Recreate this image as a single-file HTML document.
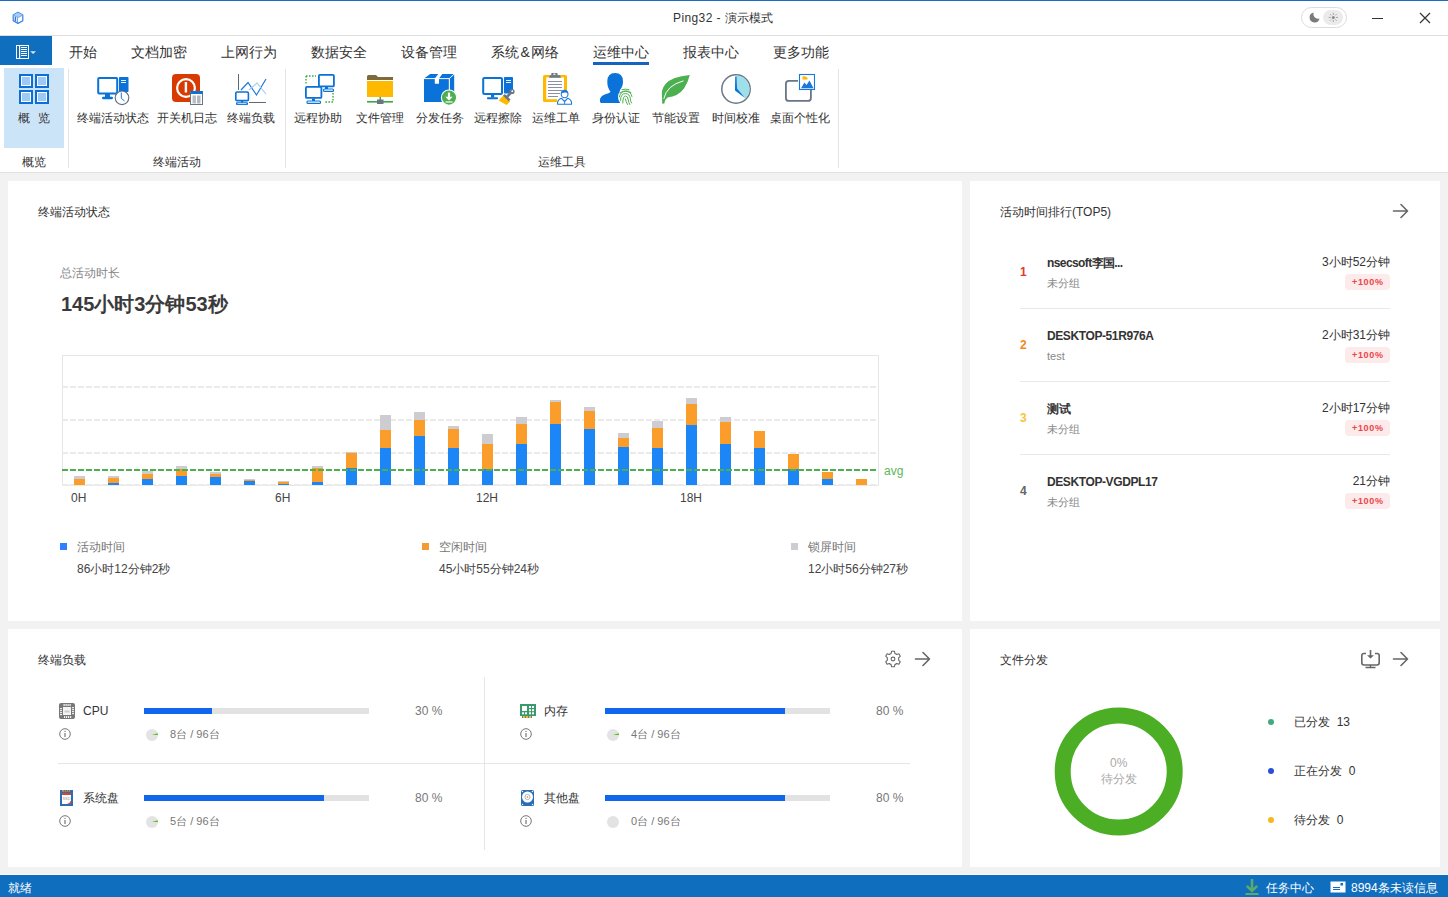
<!DOCTYPE html>
<html><head><meta charset="utf-8">
<style>
*{margin:0;padding:0;box-sizing:border-box}
html,body{width:1448px;height:897px;overflow:hidden;background:#f2f2f2;font-family:"Liberation Sans",sans-serif;color:#333}
.a{position:absolute;white-space:nowrap}
.t12{font-size:12px;line-height:12px}
.t14{font-size:14px;line-height:14px}
.t11{font-size:11px;line-height:11px}
svg{position:absolute;overflow:visible}
.panel{position:absolute;background:#fff}
</style></head><body>
<!-- title bar -->
<div class="a" style="left:0;top:0;width:1448px;height:35px;background:#fff;border-top:1px solid #1a6dc0"></div>
<div class="a" style="left:0;top:35px;width:1448px;height:1px;background:#dedede"></div>
<svg style="left:0;top:0" width="30" height="30" viewBox="0 0 30 30"><path d="M18 12.4L22.8 15V20.8L18 23.4L13.2 20.8V15Z" fill="#fff" stroke="#2f80e8" stroke-width="1.2" stroke-linejoin="round"/><path d="M13.4 15.1L18 12.6L22.6 15.1L18 17.6Z" fill="#a9cdf7"/><path d="M13.5 15.2L18 17.6L22.5 15.2" fill="none" stroke="#5a9ef0" stroke-width="0.9"/><path d="M15.3 16.8V21.2" stroke="#2f5fd0" stroke-width="1.2"/><path d="M17.3 17.8V22.6" stroke="#4a8ff0" stroke-width="1"/></svg>
<div class="a t12" style="left:673px;top:12px;color:#333"><span style="letter-spacing:0.4px">Ping32 - </span>演示模式</div>
<div class="a" style="left:1301px;top:7px;width:46px;height:21px;border:1px solid #dcdcdc;border-radius:11px;background:#fff"></div>
<div class="a" style="left:1323px;top:10px;width:20px;height:15px;border-radius:8px;background:#ebebeb"></div>
<svg style="left:1309px;top:12px" width="11" height="11" viewBox="0 0 11 11"><path d="M4.6 0.5A5 5 0 1 0 10.5 6.4A4.6 4.6 0 0 1 4.6 0.5Z" fill="#7a7a7a"/></svg>
<svg style="left:1327px;top:11px" width="13" height="13" viewBox="0 0 13 13"><circle cx="6.3" cy="6.4" r="1.5" fill="#8a8a8a"/><g stroke="#9a9a9a" stroke-width="0.9"><path d="M6.3 1.8V3.8M6.3 9V11M1.7 6.4H3.7M8.9 6.4H10.9M3 3.1L4.3 4.4M8.3 8.4L9.6 9.7M3 9.7L4.3 8.4M8.3 4.4L9.6 3.1"/></g></svg>
<div class="a" style="left:1372px;top:18px;width:11px;height:1px;background:#333"></div>
<svg style="left:1419px;top:12px" width="12" height="12" viewBox="0 0 12 12"><path d="M1 1L11 11M11 1L1 11" stroke="#333" stroke-width="1.2"/></svg>
<!-- ribbon -->
<div class="a" style="left:0;top:36px;width:1448px;height:136px;background:#fff"></div>
<div class="a" style="left:0;top:172px;width:1448px;height:1px;background:#e1e1e1"></div>
<div class="a" style="left:0;top:36px;width:52px;height:29px;background:#106ebe"></div>
<div class="a" style="left:4px;top:68px;width:60px;height:80px;background:#cce4f7"></div>
<div class="a" style="left:68px;top:69px;width:1px;height:99px;background:#e3e3e3"></div>
<div class="a" style="left:285px;top:69px;width:1px;height:99px;background:#e3e3e3"></div>
<div class="a" style="left:838px;top:69px;width:1px;height:99px;background:#e3e3e3"></div>
<div class="a" style="left:593px;top:62px;width:56px;height:3px;background:#1565c0"></div>
<div class="a t14" style="top:45px;left:69px">开始</div>
<div class="a t14" style="top:45px;left:131px">文档加密</div>
<div class="a t14" style="top:45px;left:221px">上网行为</div>
<div class="a t14" style="top:45px;left:311px">数据安全</div>
<div class="a t14" style="top:45px;left:401px">设备管理</div>
<div class="a t14" style="top:45px;left:491px">系统<span style="padding:0 1.5px">&amp;</span>网络</div>
<div class="a t14" style="top:45px;left:593px">运维中心</div>
<div class="a t14" style="top:45px;left:683px">报表中心</div>
<div class="a t14" style="top:45px;left:773px">更多功能</div>
<div class="a t12" style="top:112px;left:18px;color:#333">概<span style="display:inline-block;width:8px"></span>览</div>
<div class="a t12" style="top:112px;left:77px;color:#333">终端活动状态</div>
<div class="a t12" style="top:112px;left:157px;color:#333">开关机日志</div>
<div class="a t12" style="top:112px;left:227px;color:#333">终端负载</div>
<div class="a t12" style="top:112px;left:294px;color:#333">远程协助</div>
<div class="a t12" style="top:112px;left:356px;color:#333">文件管理</div>
<div class="a t12" style="top:112px;left:416px;color:#333">分发任务</div>
<div class="a t12" style="top:112px;left:474px;color:#333">远程擦除</div>
<div class="a t12" style="top:112px;left:532px;color:#333">运维工单</div>
<div class="a t12" style="top:112px;left:592px;color:#333">身份认证</div>
<div class="a t12" style="top:112px;left:652px;color:#333">节能设置</div>
<div class="a t12" style="top:112px;left:712px;color:#333">时间校准</div>
<div class="a t12" style="top:112px;left:770px;color:#333">桌面个性化</div>
<div class="a t12" style="top:156px;left:22px;color:#333">概览</div>
<div class="a t12" style="top:156px;left:153px;color:#333">终端活动</div>
<div class="a t12" style="top:156px;left:538px;color:#333">运维工具</div>
<svg style="left:0;top:0" width="1448" height="173" viewBox="0 0 1448 173">
<!-- menu icon -->
<rect x="16.5" y="45.5" width="12" height="13" fill="none" stroke="#fff" stroke-width="1"/>
<rect x="19" y="46" width="1.2" height="12" fill="#fff"/>
<path d="M21 47.5H27M21 49.5H27M21 51.5H27M21 53.5H27M21 55.5H27" stroke="#fff" stroke-width="1"/>
<path d="M30.2 51.3H36L33.1 54Z" fill="#d8e8f7"/>
<!-- overview -->
<g>
<rect x="19" y="74" width="14" height="14" fill="#0a6fd6"/><rect x="21" y="76" width="10" height="10" fill="#fff"/><rect x="22" y="77" width="8" height="8" fill="#9ccaf7"/>
<rect x="35" y="74" width="14" height="14" fill="#0a6fd6"/><rect x="37" y="76" width="10" height="10" fill="#fff"/><rect x="38" y="77" width="8" height="8" fill="#9ccaf7"/>
<rect x="19" y="90" width="14" height="14" fill="#0a6fd6"/><rect x="21" y="92" width="10" height="10" fill="#fff"/><rect x="22" y="93" width="8" height="8" fill="#9ccaf7"/>
<rect x="35" y="90" width="14" height="14" fill="#0a6fd6"/><rect x="37" y="92" width="10" height="10" fill="#fff"/><rect x="38" y="93" width="8" height="8" fill="#9ccaf7"/>
</g>
<!-- terminal activity status -->
<g>
<rect x="98.2" y="78" width="19" height="15.5" rx="1" fill="none" stroke="#0a72d8" stroke-width="2"/>
<rect x="105" y="94" width="5" height="3.5" fill="#0a72d8"/>
<rect x="102" y="96.8" width="11" height="2.4" rx="1.1" fill="#0a72d8"/>
<rect x="119" y="77" width="9.5" height="15" rx="0.8" fill="#0a72d8"/>
<path d="M121 80.5H126M121 82.5H126" stroke="#fff" stroke-width="0.9"/>
<circle cx="122" cy="97.8" r="6.8" fill="#fff" stroke="#5f6e80" stroke-width="1.1"/>
<path d="M121.3 92.5V98.3L124.5 101" fill="none" stroke="#1a78dd" stroke-width="1"/>
</g>
<!-- power log -->
<g>
<rect x="172" y="74" width="28" height="28" rx="4" fill="#d83b01"/>
<circle cx="186" cy="88" r="8.9" fill="none" stroke="#fff" stroke-width="2.2"/>
<rect x="184.7" y="82" width="2.4" height="10.5" fill="#fff"/>
<rect x="190.5" y="91.5" width="12" height="13" fill="#fff" stroke="#6a7686" stroke-width="1"/>
<rect x="190.5" y="91" width="12" height="3" fill="#0a72d8"/>
<rect x="192.5" y="95.5" width="3.5" height="8" fill="#b9bdc4"/>
<rect x="197" y="95.5" width="3.5" height="8" fill="#b4b9c0"/>
</g>
<!-- terminal load -->
<g>
<path d="M238.5 74V90" stroke="#5a6878" stroke-width="1"/>
<path d="M249 102.5H266" stroke="#5a6878" stroke-width="1"/>
<path d="M241 90L248 82.5L256.5 95L266 79" fill="none" stroke="#1a7ad9" stroke-width="1.2"/>
<path d="M249 90L257 83L266 94" fill="none" stroke="#9ccaf0" stroke-width="1.1"/>
<rect x="235.8" y="92" width="12.6" height="8.6" rx="1.2" fill="#fff" stroke="#0a72d8" stroke-width="1.6"/>
<rect x="241" y="100.5" width="2.2" height="2" fill="#0a72d8"/>
<rect x="236" y="102.2" width="12" height="2.8" rx="1" fill="#0a72d8"/>
<path d="M237.5 103.6H246.5" stroke="#fff" stroke-width="0.8"/>
</g>
<!-- remote assist -->
<g>
<path d="M306 76H316M306 76V85M333 93V102H324" fill="none" stroke="#3bab40" stroke-width="1.4" stroke-dasharray="1.6 1.4"/>
<rect x="318.9" y="74.9" width="15" height="11.5" rx="1" fill="#fff" stroke="#0a72d8" stroke-width="1.8"/>
<rect x="325" y="87" width="3" height="2" fill="#0a72d8"/>
<rect x="323.5" y="89" width="10" height="2.4" rx="1" fill="#fff" stroke="#0a72d8" stroke-width="1.1"/>
<rect x="305.9" y="86.9" width="15.5" height="11" rx="1" fill="#fff" stroke="#0a72d8" stroke-width="1.8"/>
<rect x="312" y="98.5" width="3" height="2.5" fill="#0a72d8"/>
<rect x="307" y="101" width="13.5" height="2.4" rx="1" fill="#fff" stroke="#0a72d8" stroke-width="1.1"/>
</g>
<!-- file manage -->
<g>
<path d="M367 76.5Q367 75 368.5 75H376L378 77H393V80H367Z" fill="#7d6b3d"/>
<rect x="367" y="81" width="26" height="16" fill="#ffb900"/>
<rect x="379.5" y="97" width="1.5" height="3" fill="#3bab40"/>
<rect x="367" y="101" width="26" height="1.6" fill="#3bab40"/>
<rect x="377" y="99.5" width="6.5" height="4.5" fill="#6a7686"/>
</g>
<!-- distribute task -->
<g>
<path d="M424 78.6L430.2 74H454L449.2 78.6Z" fill="#0a72d8"/>
<path d="M449.6 78.6L454.2 74.3V96L449.6 100Z" fill="#0a72d8"/>
<rect x="424" y="78.6" width="25" height="23.4" fill="#0a72d8"/>
<path d="M424 78.6H449.3L454 74.2M449.3 78.6V96" fill="none" stroke="#fff" stroke-width="0.9"/>
<path d="M438.3 74H442.3L439 78.6V83.8H434.8V78.6Z" fill="#fff"/>
<circle cx="449" cy="97.6" r="7.6" fill="#4caf50" stroke="#fff" stroke-width="1.1"/>
<path d="M449 92.6V98.5" stroke="#fff" stroke-width="2.2"/>
<path d="M445.3 96.8L449 100.6L452.7 96.8Z" fill="#fff"/>
<path d="M445.5 102H452.5" stroke="#fff" stroke-width="1.2"/>
</g>
<!-- remote wipe -->
<g>
<rect x="483.2" y="77.9" width="18.8" height="16" rx="1.2" fill="none" stroke="#0a72d8" stroke-width="2"/>
<rect x="491" y="94.5" width="3.2" height="3" fill="#0a72d8"/>
<rect x="487" y="97.2" width="11" height="2" rx="0.8" fill="#0a72d8"/>
<rect x="504" y="77" width="9" height="16.5" rx="0.8" fill="#0a72d8"/>
<path d="M506 80.5H511M506 82.5H511" stroke="#fff" stroke-width="0.9"/>
<path d="M503.5 95.3L510.2 101.5L506.5 105L498.7 100.5Z" fill="#ffb900"/>
<path d="M503 95.8L504.8 94L510.5 99.5L508.8 101.3Z" fill="#6a7686"/>
<path d="M506.8 97.2L512 91.5" stroke="#6a7686" stroke-width="2.6" stroke-linecap="round"/>
<circle cx="512" cy="91.5" r="2.6" fill="#6a7686"/>
<circle cx="512.3" cy="91.2" r="0.9" fill="#fff"/>
</g>
<!-- ops ticket -->
<g>
<rect x="543" y="75" width="24" height="27" rx="1.5" fill="#ffb900"/>
<rect x="546.2" y="77.4" width="17.8" height="21.8" fill="#fff"/>
<path d="M549 77.8L550 75.2H560L561 77.8Z" fill="#6a7686"/>
<rect x="551.2" y="73" width="6.4" height="2.6" rx="1" fill="#6a7686"/>
<rect x="553.4" y="73.6" width="2" height="1.3" fill="#fff"/>
<path d="M548 81.5H562M548 84.5H562M548 87.5H562M548 90.5H562M548 93.5H560M548 96.5H558" stroke="#7a8594" stroke-width="0.9"/>
<path d="M557 105V99.5Q558 96.5 562 96L564.6 96.5L567 96Q571.5 96.5 572.3 99.5V105Z" fill="#fff"/>
<path d="M557.6 104.3Q557 99.8 561.5 98.3L564.6 101.5L567.6 98.3Q572 99.8 571.6 104.3Z" fill="#fff" stroke="#1a78dd" stroke-width="1.1" stroke-linejoin="round"/>
<path d="M564.6 101.5V104.3" stroke="#1a78dd" stroke-width="0.9"/>
<ellipse cx="564.6" cy="94" rx="3.4" ry="3.8" fill="#fff" stroke="#1a78dd" stroke-width="1.1"/>
<path d="M561.3 93.5Q561 89.9 564.6 89.9Q568.2 89.9 567.9 93.5Q566 91.5 561.3 93.5Z" fill="#1a78dd"/>
</g>
<!-- identity auth -->
<g>
<path d="M615 73Q623 73 623 81.5Q623 86.5 620 90Q619 92 621 93.5L623 95V103H601Q599.5 102 600 99Q601 95.5 606 94Q610 93 610.5 91.5Q607.3 88 607.3 81.5Q607.3 73 615 73Z" fill="#0a72d8"/>
<ellipse cx="625.5" cy="97" rx="7.5" ry="8.5" fill="#fff"/>
<g fill="none" stroke="#4caf50" stroke-width="1" stroke-linecap="round">
<path d="M622 89.6Q625.5 88.6 629 89.6"/>
<path d="M619.8 93Q625.5 88.8 631 92.5"/>
<path d="M619.3 97Q620.5 91.5 625.5 91.3Q631 91.5 632 96.5"/>
<path d="M620.5 100.5Q620.5 93.6 625.5 93.6Q629.8 93.8 630.3 98.5Q630.5 101.5 631.5 103"/>
<path d="M622.8 103Q622.8 96 625.5 96Q628 96 628.3 100Q628.5 102.5 629.8 104.5"/>
<path d="M625.3 98.8Q626 101.5 627.5 104.5"/>
</g>
</g>
<!-- energy -->
<g>
<path d="M689.8 75Q672 76.5 665.5 84Q661 89.5 662 96L662.2 103.8L664.3 103.5Q664.8 99.5 667.5 97.6Q678 96.5 684 88.5Q688 82.5 689.8 75Z" fill="#4caf50"/>
<path d="M663.8 98.8Q666.5 85.5 683.5 80.8" fill="none" stroke="#fff" stroke-width="1"/>
</g>
<!-- time sync -->
<g>
<circle cx="736" cy="89" r="14.2" fill="#fff" stroke="#697789" stroke-width="1.5"/>
<path d="M736 75.5A13.5 13.5 0 0 1 745.5 98.5L736 89Z" fill="#9ee0ea"/>
<path d="M735.2 76.5L736.5 76.5L737 88.5L745 98L735 90.5Z" fill="#0a72d8"/>
</g>
<!-- desktop personalize -->
<g>
<rect x="785.9" y="80.9" width="25" height="20" rx="3" fill="none" stroke="#6a7686" stroke-width="1.8"/>
<rect x="798" y="73.5" width="17.5" height="16.5" fill="#fff"/>
<rect x="799.5" y="74.5" width="15" height="15" fill="#fff" stroke="#1a78dd" stroke-width="1.1"/>
<circle cx="804" cy="77.6" r="1.5" fill="#ffb900"/><circle cx="806" cy="78" r="1.3" fill="#ffb900"/><rect x="802.5" y="78" width="5" height="1.5" fill="#ffb900"/>
<path d="M801 88.2L804.5 82.5L806.5 85L809.5 80.5L813.5 88.2Z" fill="#1a78dd"/>
</g>
</svg>
<!-- panels -->
<div class="panel" style="left:8px;top:181px;width:954px;height:440px"></div>
<div class="panel" style="left:970px;top:181px;width:470px;height:440px"></div>
<div class="panel" style="left:8px;top:629px;width:954px;height:238px"></div>
<div class="panel" style="left:970px;top:629px;width:470px;height:238px"></div>
<div class="a t12" style="left:38px;top:206px;color:#333">终端活动状态</div>
<div class="a t12" style="left:60px;top:267px;color:#888">总活动时长</div>
<div class="a" style="left:61px;top:294px;font-size:20px;line-height:20px;font-weight:bold;color:#3a3a3a">145小时3分钟53秒</div>
<svg style="left:0;top:0" width="1448" height="600" viewBox="0 0 1448 600">
<rect x="62.5" y="355.5" width="816" height="130" fill="none" stroke="#e6e6e6" stroke-width="1"/>
<path d="M62 387H878" stroke="#eaeaea" stroke-width="2" stroke-dasharray="6 2"/>
<path d="M62 420H878" stroke="#eaeaea" stroke-width="2" stroke-dasharray="6 2"/>
<path d="M62 453H878" stroke="#eaeaea" stroke-width="2" stroke-dasharray="6 2"/>
<path d="M62 485H878" stroke="#eaeaea" stroke-width="2" stroke-dasharray="6 2"/>
<rect x="74" y="476" width="11" height="3" fill="#cdccd1"/>
<rect x="74" y="479" width="11" height="6" fill="#fa9d2b"/>
<rect x="108" y="476" width="11" height="2" fill="#cdccd1"/>
<rect x="108" y="478" width="11" height="5" fill="#fa9d2b"/>
<rect x="108" y="483" width="11" height="2" fill="#1c86f6"/>
<rect x="142" y="471" width="11" height="3" fill="#cdccd1"/>
<rect x="142" y="474" width="11" height="5" fill="#fa9d2b"/>
<rect x="142" y="479" width="11" height="6" fill="#1c86f6"/>
<rect x="176" y="466" width="11" height="3" fill="#cdccd1"/>
<rect x="176" y="469" width="11" height="7" fill="#fa9d2b"/>
<rect x="176" y="476" width="11" height="9" fill="#1c86f6"/>
<rect x="210" y="472" width="11" height="2" fill="#cdccd1"/>
<rect x="210" y="474" width="11" height="3" fill="#fa9d2b"/>
<rect x="210" y="477" width="11" height="8" fill="#1c86f6"/>
<rect x="244" y="479" width="11" height="1" fill="#cdccd1"/>
<rect x="244" y="480" width="11" height="1" fill="#fa9d2b"/>
<rect x="244" y="481" width="11" height="4" fill="#1c86f6"/>
<rect x="278" y="481" width="11" height="1" fill="#cdccd1"/>
<rect x="278" y="482" width="11" height="2" fill="#fa9d2b"/>
<rect x="278" y="484" width="11" height="1" fill="#1c86f6"/>
<rect x="312" y="466" width="11" height="2" fill="#cdccd1"/>
<rect x="312" y="468" width="11" height="14" fill="#fa9d2b"/>
<rect x="312" y="482" width="11" height="3" fill="#1c86f6"/>
<rect x="346" y="452" width="11" height="1" fill="#cdccd1"/>
<rect x="346" y="453" width="11" height="15" fill="#fa9d2b"/>
<rect x="346" y="468" width="11" height="17" fill="#1c86f6"/>
<rect x="380" y="415" width="11" height="15" fill="#cdccd1"/>
<rect x="380" y="430" width="11" height="18" fill="#fa9d2b"/>
<rect x="380" y="448" width="11" height="37" fill="#1c86f6"/>
<rect x="414" y="412" width="11" height="8" fill="#cdccd1"/>
<rect x="414" y="420" width="11" height="16" fill="#fa9d2b"/>
<rect x="414" y="436" width="11" height="49" fill="#1c86f6"/>
<rect x="448" y="426" width="11" height="3" fill="#cdccd1"/>
<rect x="448" y="429" width="11" height="19" fill="#fa9d2b"/>
<rect x="448" y="448" width="11" height="37" fill="#1c86f6"/>
<rect x="482" y="434" width="11" height="10" fill="#cdccd1"/>
<rect x="482" y="444" width="11" height="25" fill="#fa9d2b"/>
<rect x="482" y="469" width="11" height="16" fill="#1c86f6"/>
<rect x="516" y="417" width="11" height="7" fill="#cdccd1"/>
<rect x="516" y="424" width="11" height="20" fill="#fa9d2b"/>
<rect x="516" y="444" width="11" height="41" fill="#1c86f6"/>
<rect x="550" y="400" width="11" height="2" fill="#cdccd1"/>
<rect x="550" y="402" width="11" height="22" fill="#fa9d2b"/>
<rect x="550" y="424" width="11" height="61" fill="#1c86f6"/>
<rect x="584" y="407" width="11" height="4" fill="#cdccd1"/>
<rect x="584" y="411" width="11" height="18" fill="#fa9d2b"/>
<rect x="584" y="429" width="11" height="56" fill="#1c86f6"/>
<rect x="618" y="433" width="11" height="5" fill="#cdccd1"/>
<rect x="618" y="438" width="11" height="9" fill="#fa9d2b"/>
<rect x="618" y="447" width="11" height="38" fill="#1c86f6"/>
<rect x="652" y="421" width="11" height="7" fill="#cdccd1"/>
<rect x="652" y="428" width="11" height="20" fill="#fa9d2b"/>
<rect x="652" y="448" width="11" height="37" fill="#1c86f6"/>
<rect x="686" y="398" width="11" height="6" fill="#cdccd1"/>
<rect x="686" y="404" width="11" height="21" fill="#fa9d2b"/>
<rect x="686" y="425" width="11" height="60" fill="#1c86f6"/>
<rect x="720" y="417" width="11" height="5" fill="#cdccd1"/>
<rect x="720" y="422" width="11" height="22" fill="#fa9d2b"/>
<rect x="720" y="444" width="11" height="41" fill="#1c86f6"/>
<rect x="754" y="431" width="11" height="17" fill="#fa9d2b"/>
<rect x="754" y="448" width="11" height="37" fill="#1c86f6"/>
<rect x="788" y="454" width="11" height="15" fill="#fa9d2b"/>
<rect x="788" y="469" width="11" height="16" fill="#1c86f6"/>
<rect x="822" y="472" width="11" height="7" fill="#fa9d2b"/>
<rect x="822" y="479" width="11" height="6" fill="#1c86f6"/>
<rect x="856" y="479" width="11" height="6" fill="#fa9d2b"/>
<path d="M62 470H877" stroke="#4caf50" stroke-width="2" stroke-dasharray="6 2"/>
</svg>
<div class="a t12" style="left:71px;top:492px;color:#444">0H</div>
<div class="a t12" style="left:275px;top:492px;color:#444">6H</div>
<div class="a t12" style="left:476px;top:492px;color:#444">12H</div>
<div class="a t12" style="left:680px;top:492px;color:#444">18H</div>
<div class="a t12" style="left:884px;top:465px;color:#5cb85c">avg</div>
<div class="a" style="left:60px;top:543px;width:7px;height:7px;background:#2f80ff"></div>
<div class="a" style="left:422px;top:543px;width:7px;height:7px;background:#f39a33"></div>
<div class="a" style="left:791px;top:543px;width:7px;height:7px;background:#cdccd1"></div>
<div class="a t12" style="left:77px;top:541px;color:#777">活动时间</div>
<div class="a t12" style="left:439px;top:541px;color:#777">空闲时间</div>
<div class="a t12" style="left:808px;top:541px;color:#777">锁屏时间</div>
<div class="a t12" style="left:77px;top:563px;color:#444">86小时12分钟2秒</div>
<div class="a t12" style="left:439px;top:563px;color:#444">45小时55分钟24秒</div>
<div class="a t12" style="left:808px;top:563px;color:#444">12小时56分钟27秒</div>

<div class="a t12" style="left:1000px;top:206px;color:#333">活动时间排行(TOP5)</div>
<svg style="left:1392px;top:203px" width="17" height="16" viewBox="0 0 17 16"><path d="M1.5 8H15.5M9 1.5L15.5 8L9 14.5" fill="none" stroke="#666" stroke-width="1.6" stroke-linecap="round" stroke-linejoin="round"/></svg>
<div class="a t12" style="left:1020px;top:266px;color:#e8372f;font-weight:bold">1</div>
<div class="a t12" style="left:1047px;top:257px;color:#333;font-weight:bold;letter-spacing:-0.6px">nsecsoft李国...</div>
<div class="a t11" style="left:1047px;top:278px;color:#888">未分组</div>
<div class="a t12" style="right:58px;top:256px;color:#333">3小时52分钟</div>
<div class="a" style="left:1345px;top:274px;width:45px;height:16px;border-radius:4px;background:#fdeaea;color:#e8464a;font-size:9px;line-height:16px;font-weight:bold;letter-spacing:0.7px;text-indent:0.7px;text-align:center">+100%</div>
<div class="a" style="left:1020px;top:308px;width:370px;height:1px;background:#e8e8e8"></div>
<div class="a t12" style="left:1020px;top:339px;color:#f08a1c;font-weight:bold">2</div>
<div class="a t12" style="left:1047px;top:330px;color:#333;font-weight:bold;letter-spacing:-0.4px">DESKTOP-51R976A</div>
<div class="a t11" style="left:1047px;top:351px;color:#888">test</div>
<div class="a t12" style="right:58px;top:329px;color:#333">2小时31分钟</div>
<div class="a" style="left:1345px;top:347px;width:45px;height:16px;border-radius:4px;background:#fdeaea;color:#e8464a;font-size:9px;line-height:16px;font-weight:bold;letter-spacing:0.7px;text-indent:0.7px;text-align:center">+100%</div>
<div class="a" style="left:1020px;top:381px;width:370px;height:1px;background:#e8e8e8"></div>
<div class="a t12" style="left:1020px;top:412px;color:#f7c338;font-weight:bold">3</div>
<div class="a t12" style="left:1047px;top:403px;color:#333;font-weight:bold">测试</div>
<div class="a t11" style="left:1047px;top:424px;color:#888">未分组</div>
<div class="a t12" style="right:58px;top:402px;color:#333">2小时17分钟</div>
<div class="a" style="left:1345px;top:420px;width:45px;height:16px;border-radius:4px;background:#fdeaea;color:#e8464a;font-size:9px;line-height:16px;font-weight:bold;letter-spacing:0.7px;text-indent:0.7px;text-align:center">+100%</div>
<div class="a" style="left:1020px;top:454px;width:370px;height:1px;background:#e8e8e8"></div>
<div class="a t12" style="left:1020px;top:485px;color:#666;font-weight:bold">4</div>
<div class="a t12" style="left:1047px;top:476px;color:#333;font-weight:bold;letter-spacing:-0.4px">DESKTOP-VGDPL17</div>
<div class="a t11" style="left:1047px;top:497px;color:#888">未分组</div>
<div class="a t12" style="right:58px;top:475px;color:#333">21分钟</div>
<div class="a" style="left:1345px;top:493px;width:45px;height:16px;border-radius:4px;background:#fdeaea;color:#e8464a;font-size:9px;line-height:16px;font-weight:bold;letter-spacing:0.7px;text-indent:0.7px;text-align:center">+100%</div>
<div class="a t12" style="left:38px;top:654px;color:#333">终端负载</div>
<svg style="left:884px;top:650px" width="18" height="18" viewBox="0 0 18 18"><path d="M7.6 1.2H10.4L10.9 3.4Q11.9 3.8 12.7 4.5L14.9 3.8L16.3 6.2L14.6 7.8Q14.8 9 14.6 10.2L16.3 11.8L14.9 14.2L12.7 13.5Q11.9 14.2 10.9 14.6L10.4 16.8H7.6L7.1 14.6Q6.1 14.2 5.3 13.5L3.1 14.2L1.7 11.8L3.4 10.2Q3.2 9 3.4 7.8L1.7 6.2L3.1 3.8L5.3 4.5Q6.1 3.8 7.1 3.4Z" fill="none" stroke="#666" stroke-width="1.1" stroke-linejoin="round"/><circle cx="9" cy="9" r="1.9" fill="none" stroke="#666" stroke-width="1.1"/></svg>
<svg style="left:914px;top:651px" width="17" height="16" viewBox="0 0 17 16"><path d="M1.5 8H15.5M9 1.5L15.5 8L9 14.5" fill="none" stroke="#666" stroke-width="1.6" stroke-linecap="round" stroke-linejoin="round"/></svg>
<div class="a" style="left:484px;top:677px;width:1px;height:173px;background:#e6e6e6"></div>
<div class="a" style="left:58px;top:763px;width:852px;height:1px;background:#e6e6e6"></div>
<svg style="left:59px;top:703px" width="16" height="16" viewBox="0 0 16 16"><rect x="0" y="0" width="16" height="16" rx="2" fill="#777"/><rect x="4" y="4" width="8" height="8" fill="#f4f4f4"/><g fill="#fff"><rect x="4.5" y="1" width="1.2" height="2" rx="0.6"/><rect x="6.5" y="1" width="1.2" height="2" rx="0.6"/><rect x="8.5" y="1" width="1.2" height="2" rx="0.6"/><rect x="10.5" y="1" width="1.2" height="2" rx="0.6"/><rect x="5" y="13" width="1.2" height="2" rx="0.6"/><rect x="7" y="13" width="1.2" height="2" rx="0.6"/><rect x="9" y="13" width="1.2" height="2" rx="0.6"/><rect x="11" y="13" width="1.2" height="2" rx="0.6"/><rect x="1" y="5" width="2" height="1.2" rx="0.6"/><rect x="1" y="7" width="2" height="1.2" rx="0.6"/><rect x="1" y="9" width="2" height="1.2" rx="0.6"/><rect x="1" y="11" width="2" height="1.2" rx="0.6"/><rect x="13" y="4" width="2" height="1.2" rx="0.6"/><rect x="13" y="6" width="2" height="1.2" rx="0.6"/><rect x="13" y="8" width="2" height="1.2" rx="0.6"/><rect x="13" y="10" width="2" height="1.2" rx="0.6"/></g><path d="M5.5 7.5H10.5V9.5H5.5Z" fill="#ccc"/></svg>
<div class="a t12" style="left:83px;top:705px;color:#333">CPU</div>
<div class="a" style="left:144px;top:708px;width:225px;height:6px;background:#e2e2e2"></div>
<div class="a" style="left:144px;top:708px;width:68px;height:6px;background:#1166ee"></div>
<div class="a t12" style="left:415px;top:705px;color:#777">30 %</div>
<svg style="left:59px;top:728px" width="12" height="12" viewBox="0 0 12 12"><circle cx="6" cy="6" r="5.3" fill="none" stroke="#777" stroke-width="1"/><rect x="5.4" y="5" width="1.2" height="4" fill="#777"/><circle cx="6" cy="3.4" r="0.7" fill="#777"/></svg>
<svg style="left:146px;top:729px" width="12" height="12" viewBox="0 0 12 12"><circle cx="6" cy="6" r="6" fill="#e3e3e3"/><path d="M6 6L11.6 4.2A6 6 0 0 1 12 6Z" fill="#52c41a"/></svg>
<div class="a t11" style="left:170px;top:729px;color:#777">8台 / 96台</div>
<svg style="left:520px;top:703px" width="16" height="16" viewBox="0 0 16 16"><rect x="0" y="1" width="16" height="12" fill="#3a9a6e"/><g fill="#fff"><rect x="2" y="3" width="5" height="5"/><rect x="2" y="9.3" width="2" height="2"/><rect x="5" y="9.3" width="2" height="2"/><rect x="9" y="3" width="2" height="2"/><rect x="12" y="3" width="2" height="2"/><rect x="9" y="6.2" width="2" height="2"/><rect x="12" y="6.2" width="2" height="2"/><rect x="9" y="9.3" width="2" height="2"/><rect x="12" y="9.3" width="2" height="2"/></g><rect x="2" y="13" width="10" height="2" fill="#3a9a6e"/><g fill="#f9b24a"><rect x="3" y="13" width="2" height="2"/><rect x="6" y="13" width="2" height="2"/><rect x="9" y="13" width="2" height="2"/></g></svg>
<div class="a t12" style="left:544px;top:705px;color:#333">内存</div>
<div class="a" style="left:605px;top:708px;width:225px;height:6px;background:#e2e2e2"></div>
<div class="a" style="left:605px;top:708px;width:180px;height:6px;background:#1166ee"></div>
<div class="a t12" style="left:876px;top:705px;color:#777">80 %</div>
<svg style="left:520px;top:728px" width="12" height="12" viewBox="0 0 12 12"><circle cx="6" cy="6" r="5.3" fill="none" stroke="#777" stroke-width="1"/><rect x="5.4" y="5" width="1.2" height="4" fill="#777"/><circle cx="6" cy="3.4" r="0.7" fill="#777"/></svg>
<svg style="left:607px;top:729px" width="12" height="12" viewBox="0 0 12 12"><circle cx="6" cy="6" r="6" fill="#e3e3e3"/><path d="M6 6L11.6 4.2A6 6 0 0 1 12 6Z" fill="#52c41a"/></svg>
<div class="a t11" style="left:631px;top:729px;color:#777">4台 / 96台</div>
<svg style="left:59px;top:790px" width="16" height="16" viewBox="0 0 16 16"><path d="M1 0H3.2V1.6H10.8V0H14V16H1Z" fill="#2a6fb5"/><rect x="3.6" y="0" width="6.8" height="1.8" fill="#555"/><g fill="#f9b24a"><rect x="4.3" y="0.2" width="1" height="1.4"/><rect x="6.3" y="0.2" width="1" height="1.4"/><rect x="8.3" y="0.2" width="1" height="1.4"/></g><rect x="3" y="3" width="9" height="11" fill="#fff"/><rect x="3" y="3" width="9" height="2" fill="#e4401a"/><path d="M12 10.5V14H7.8Q11 13 12 10.5Z" fill="#e4501a"/><text x="7.5" y="10" font-size="4" text-anchor="middle" fill="#999" font-family="Liberation Sans">SSD</text></svg>
<div class="a t12" style="left:83px;top:792px;color:#333">系统盘</div>
<div class="a" style="left:144px;top:795px;width:225px;height:6px;background:#e2e2e2"></div>
<div class="a" style="left:144px;top:795px;width:180px;height:6px;background:#1166ee"></div>
<div class="a t12" style="left:415px;top:792px;color:#777">80 %</div>
<svg style="left:59px;top:815px" width="12" height="12" viewBox="0 0 12 12"><circle cx="6" cy="6" r="5.3" fill="none" stroke="#777" stroke-width="1"/><rect x="5.4" y="5" width="1.2" height="4" fill="#777"/><circle cx="6" cy="3.4" r="0.7" fill="#777"/></svg>
<svg style="left:146px;top:816px" width="12" height="12" viewBox="0 0 12 12"><circle cx="6" cy="6" r="6" fill="#e3e3e3"/><path d="M6 6L11.6 4.2A6 6 0 0 1 12 6Z" fill="#52c41a"/></svg>
<div class="a t11" style="left:170px;top:816px;color:#777">5台 / 96台</div>
<svg style="left:520px;top:790px" width="16" height="16" viewBox="0 0 16 16"><rect x="1" y="0" width="13" height="16" rx="1.5" fill="#2a6fb5"/><circle cx="7.5" cy="7" r="5.5" fill="#fff"/><circle cx="7.5" cy="7" r="2.6" fill="none" stroke="#aaa" stroke-width="0.9"/><circle cx="7.5" cy="7" r="0.8" fill="#888"/><g fill="#fff"><circle cx="2.5" cy="1.5" r="0.7"/><circle cx="12.5" cy="1.5" r="0.7"/><circle cx="2.5" cy="14.5" r="0.7"/><circle cx="12.5" cy="14.5" r="0.7"/></g></svg>
<div class="a t12" style="left:544px;top:792px;color:#333">其他盘</div>
<div class="a" style="left:605px;top:795px;width:225px;height:6px;background:#e2e2e2"></div>
<div class="a" style="left:605px;top:795px;width:180px;height:6px;background:#1166ee"></div>
<div class="a t12" style="left:876px;top:792px;color:#777">80 %</div>
<svg style="left:520px;top:815px" width="12" height="12" viewBox="0 0 12 12"><circle cx="6" cy="6" r="5.3" fill="none" stroke="#777" stroke-width="1"/><rect x="5.4" y="5" width="1.2" height="4" fill="#777"/><circle cx="6" cy="3.4" r="0.7" fill="#777"/></svg>
<svg style="left:607px;top:816px" width="12" height="12" viewBox="0 0 12 12"><circle cx="6" cy="6" r="6" fill="#e3e3e3"/></svg>
<div class="a t11" style="left:631px;top:816px;color:#777">0台 / 96台</div>
<div class="a t12" style="left:1000px;top:654px;color:#333">文件分发</div>
<svg style="left:1360px;top:649px" width="21" height="20" viewBox="0 0 21 20"><path d="M6 4.5H4Q1.8 4.5 1.8 6.7V13.8Q1.8 16 4 16H17Q19.2 16 19.2 13.8V6.7Q19.2 4.5 17 4.5H15" fill="none" stroke="#666" stroke-width="1.6"/><path d="M10.5 1V8.5" stroke="#666" stroke-width="1.6"/><path d="M7 6.2L10.5 9.6L14 6.2Z" fill="#666"/><path d="M10.5 16V18.5M5.5 18.5H15.5" stroke="#666" stroke-width="1.4"/></svg>
<svg style="left:1392px;top:651px" width="17" height="16" viewBox="0 0 17 16"><path d="M1.5 8H15.5M9 1.5L15.5 8L9 14.5" fill="none" stroke="#666" stroke-width="1.6" stroke-linecap="round" stroke-linejoin="round"/></svg>
<svg style="left:1040px;top:690px" width="160" height="160" viewBox="0 0 160 160"><circle cx="78.7" cy="81.5" r="56" fill="none" stroke="#4cae24" stroke-width="16"/></svg>
<div class="a t12" style="left:1110px;top:757px;color:#aaa">0%</div>
<div class="a t12" style="left:1101px;top:773px;color:#aaa">待分发</div>
<div class="a" style="left:1268px;top:719px;width:6px;height:6px;border-radius:3px;background:#3dab7f"></div>
<div class="a" style="left:1268px;top:768px;width:6px;height:6px;border-radius:3px;background:#2a4ed8"></div>
<div class="a" style="left:1268px;top:817px;width:6px;height:6px;border-radius:3px;background:#f5b620"></div>
<div class="a t12" style="left:1294px;top:716px;color:#333">已分发&nbsp;&nbsp;13</div>
<div class="a t12" style="left:1294px;top:765px;color:#333">正在分发&nbsp;&nbsp;0</div>
<div class="a t12" style="left:1294px;top:814px;color:#333">待分发&nbsp;&nbsp;0</div>
<!-- status bar -->
<div class="a" style="left:0;top:874px;width:1448px;height:1px;background:#fbfbf8"></div>
<div class="a" style="left:0;top:875px;width:1448px;height:22px;background:#106ebe"></div>
<div class="a t12" style="left:8px;top:882px;color:#fff">就绪</div>
<svg style="left:1245px;top:879px" width="15" height="17" viewBox="0 0 15 17"><path d="M7 0V12M1.8 6.8L7 12L12.2 6.8" fill="none" stroke="#5aaa6a" stroke-width="2.5"/><rect x="0.5" y="14" width="13" height="2" fill="#5aaa6a"/></svg>
<div class="a t12" style="left:1266px;top:882px;color:#fff">任务中心</div>
<svg style="left:1330px;top:881px" width="16" height="12" viewBox="0 0 16 12"><rect x="0.5" y="0.5" width="15" height="11" fill="#fff"/><rect x="10.5" y="2" width="2.5" height="2.5" fill="#106ebe"/><path d="M3 6.5H10M3 8.5H10" stroke="#106ebe" stroke-width="1"/></svg>
<div class="a t12" style="left:1351px;top:882px;color:#fff">8994条未读信息</div>
</body></html>
